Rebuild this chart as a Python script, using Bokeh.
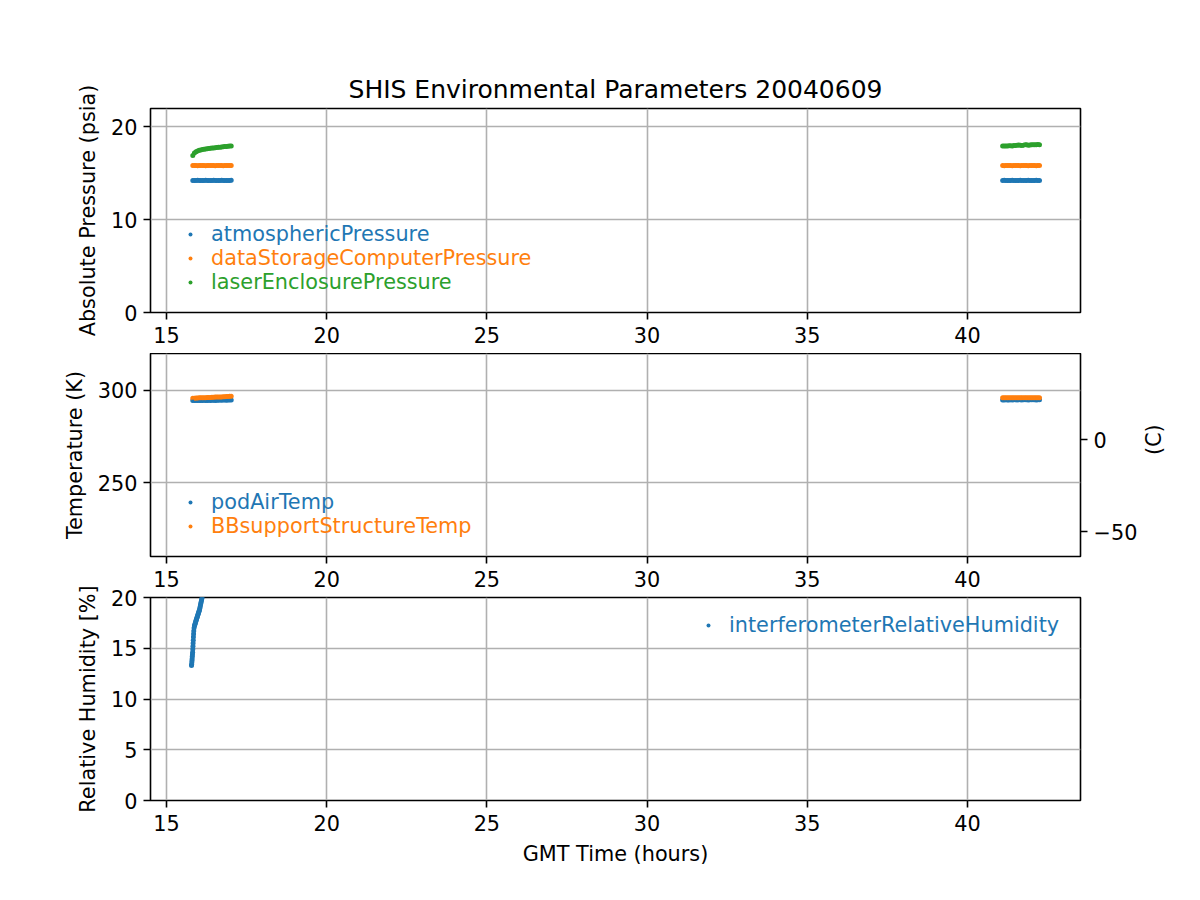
import math
from bokeh.plotting import figure
from bokeh.models import Range1d, LinearAxis, FixedTicker, Legend, LegendItem
from bokeh.layouts import column
from bokeh.embed import file_html
from bokeh.resources import INLINE

FONT = "DejaVu Sans"
BLUE = "#1f77b4"
ORANGE = "#ff7f0e"
GREEN = "#2ca02c"
FS = "20.8px"

# ---------------- data ----------------
time_a = [15.82, 15.87, 15.92, 15.97, 16.02, 16.07, 16.12, 16.17, 16.22, 16.27,
          16.32, 16.37, 16.42, 16.47, 16.52, 16.57, 16.62, 16.67, 16.72, 16.77,
          16.82, 16.87, 16.92, 16.97, 17.02]
time_b = [41.10, 41.15, 41.20, 41.25, 41.30, 41.35, 41.40, 41.45, 41.50, 41.55,
          41.60, 41.65, 41.70, 41.75, 41.80, 41.85, 41.90, 41.95, 42.00, 42.05,
          42.10, 42.15, 42.20, 42.25]

atmos_a = [14.20, 14.19, 14.20, 14.21, 14.20, 14.19, 14.20, 14.20, 14.21, 14.20,
           14.19, 14.20, 14.20, 14.21, 14.20, 14.20, 14.19, 14.20, 14.21, 14.20,
           14.20, 14.19, 14.20, 14.20, 14.21]
atmos_b = [14.20, 14.21, 14.20, 14.19, 14.20, 14.20, 14.21, 14.20, 14.19, 14.20,
           14.20, 14.21, 14.20, 14.20, 14.19, 14.20, 14.21, 14.20, 14.20, 14.19,
           14.20, 14.21, 14.20, 14.20]
dsc_a = [15.80, 15.81, 15.80, 15.79, 15.80, 15.80, 15.81, 15.80, 15.79, 15.80,
         15.80, 15.81, 15.80, 15.80, 15.79, 15.80, 15.81, 15.80, 15.80, 15.79,
         15.80, 15.81, 15.80, 15.80, 15.80]
dsc_b = [15.80, 15.79, 15.80, 15.81, 15.80, 15.80, 15.79, 15.80, 15.81, 15.80,
         15.80, 15.79, 15.80, 15.80, 15.81, 15.80, 15.79, 15.80, 15.80, 15.81,
         15.80, 15.79, 15.80, 15.80]
laser_a = [16.88, 17.15, 17.30, 17.38, 17.44, 17.48, 17.52, 17.55, 17.58, 17.61,
           17.63, 17.66, 17.68, 17.70, 17.72, 17.74, 17.76, 17.78, 17.80, 17.82,
           17.84, 17.86, 17.88, 17.90, 17.92]
laser_b = [17.90, 17.91, 17.92, 17.90, 17.93, 17.94, 17.92, 17.95, 17.96, 18.00,
           18.02, 17.98, 17.96, 17.99, 18.03, 18.04, 18.00, 18.02, 18.05, 18.04,
           18.03, 18.05, 18.06, 18.05]

podair_a = [294.6, 294.5, 294.6, 294.6, 294.5, 294.6, 294.6, 294.7, 294.6, 294.6,
            294.7, 294.6, 294.7, 294.7, 294.6, 294.7, 294.7, 294.8, 294.7, 294.8,
            294.8, 294.7, 294.8, 294.9, 294.8]
podair_b = [294.9, 294.9, 295.0, 294.9, 294.9, 295.0, 294.9, 295.0, 295.0, 294.9,
            295.0, 295.0, 294.9, 295.0, 295.0, 295.0, 294.9, 295.0, 295.0, 295.0,
            295.0, 294.9, 295.0, 295.0]
bbsupport_a = [295.8, 295.8, 295.9, 295.9, 296.0, 296.0, 296.0, 296.1, 296.1, 296.2,
               296.2, 296.2, 296.3, 296.3, 296.4, 296.4, 296.4, 296.5, 296.5, 296.6,
               296.6, 296.7, 296.8, 296.9, 296.9]
bbsupport_b = [296.0, 296.0, 296.0, 296.1, 296.0, 296.0, 296.1, 296.0, 296.0, 296.1,
               296.0, 296.0, 296.1, 296.0, 296.0, 296.1, 296.0, 296.0, 296.1, 296.0,
               296.0, 296.1, 296.0, 296.0]

hum_time = [15.780, 15.785, 15.790, 15.795, 15.800, 15.805, 15.810, 15.815, 15.820,
            15.825, 15.830, 15.835, 15.840, 15.845, 15.850, 15.860, 15.870, 15.880,
            15.890, 15.900, 15.910, 15.920, 15.930, 15.940, 15.950, 15.960, 15.970,
            15.980, 15.990, 16.000, 16.010, 16.020, 16.030, 16.040, 16.050, 16.060,
            16.070, 16.080, 16.090, 16.100, 16.110, 16.120, 16.130]
humidity = [13.3, 13.4, 13.6, 13.8, 14.0, 14.2, 14.4, 14.6, 14.9,
            15.2, 15.5, 15.8, 16.1, 16.4, 16.7, 17.0, 17.2, 17.3,
            17.4, 17.5, 17.6, 17.7, 17.8, 17.9, 18.0, 18.1, 18.2,
            18.3, 18.4, 18.5, 18.6, 18.7, 18.8, 18.95, 19.1, 19.25,
            19.4, 19.55, 19.7, 19.85, 20.0, 20.15, 20.3]

x_ticks = [15, 20, 25, 30, 35, 40]
pres_ticks = [0, 10, 20]
temp_ticks = [250, 300]
celsius_ticks = [-50, 0]
hum_ticks = [0, 5, 10, 15, 20]

X_RANGE = (14.5, 43.53)


def style_axis(ax):
    ax.axis_line_color = None
    ax.major_tick_out = 7
    ax.major_tick_in = 0
    ax.major_tick_line_width = 1.6
    ax.major_tick_line_color = "black"
    ax.minor_tick_line_color = None
    ax.major_label_text_font = FONT
    ax.major_label_text_font_size = FS
    ax.major_label_text_color = "black"
    ax.major_label_standoff = 6
    ax.axis_label_text_font = FONT
    ax.axis_label_text_font_size = FS
    ax.axis_label_text_font_style = "normal"
    ax.axis_label_text_color = "black"
    ax.axis_label_standoff = 8


def style(p, yticks):
    p.outline_line_color = "black"
    p.outline_line_width = 1.6
    p.outline_line_alpha = 1.0
    p.xgrid.grid_line_color = "#b0b0b0"
    p.ygrid.grid_line_color = "#b0b0b0"
    p.xgrid.grid_line_width = 1.6
    p.ygrid.grid_line_width = 1.6
    p.xaxis.ticker = FixedTicker(ticks=x_ticks)
    p.left[0].ticker = FixedTicker(ticks=yticks)
    for ax in p.xaxis + p.yaxis:
        style_axis(ax)
    p.below[0].major_label_standoff = 7


def add_legend(p, color, label, xs, ys, vx, vy):
    proxy = p.scatter(xs[:1], ys[:1], size=3, color=color, line_color=None)
    leg = Legend(items=[LegendItem(label=label, renderers=[proxy])],
                 location=(vx, vy), orientation="vertical",
                 glyph_width=10, glyph_height=20, label_height=24,
                 label_standoff=16, padding=0, margin=0, spacing=0,
                 border_line_alpha=0, background_fill_alpha=0,
                 label_text_color=color, label_text_font=FONT,
                 label_text_font_size=FS)
    p.add_layout(leg)


LEFT = 150
RIGHT = 112

# ---------- plot 1: pressure ----------
p1 = figure(frame_width=930, frame_height=204, min_border_left=LEFT,
            min_border_right=RIGHT, min_border_top=108, min_border_bottom=41,
            toolbar_location=None, output_backend="svg",
            x_range=Range1d(*X_RANGE), y_range=Range1d(0, 21.94))
p1.title.text = "SHIS Environmental Parameters 20040609"
p1.title.align = "center"
p1.title.text_font = FONT
p1.title.text_font_size = "25px"
p1.title.text_font_style = "normal"
p1.title.text_color = "black"
p1.title.standoff = 9
for t, v, c in [(time_a, atmos_a, BLUE), (time_b, atmos_b, BLUE),
                (time_a, dsc_a, ORANGE), (time_b, dsc_b, ORANGE),
                (time_a, laser_a, GREEN), (time_b, laser_b, GREEN)]:
    p1.scatter(t, v, size=5, color=c, line_color=None)
style(p1, pres_ticks)
p1.left[0].axis_label = "Absolute Pressure (psia)"
add_legend(p1, BLUE, "atmosphericPressure", time_a, atmos_a, 35, 66)
add_legend(p1, ORANGE, "dataStorageComputerPressure", time_a, dsc_a, 35, 42)
add_legend(p1, GREEN, "laserEnclosurePressure", time_a, laser_a, 35, 18)

# ---------- plot 2: temperature ----------
p2 = figure(frame_width=930, frame_height=203, min_border_left=LEFT,
            min_border_right=RIGHT, min_border_top=0, min_border_bottom=41,
            toolbar_location=None, output_backend="svg",
            x_range=p1.x_range, y_range=Range1d(209.8, 320.1))
p2.extra_y_ranges = {"celsius": Range1d(209.8 - 273.15, 320.1 - 273.15)}
for t, v, c in [(time_a, podair_a, BLUE), (time_b, podair_b, BLUE),
                (time_a, bbsupport_a, ORANGE), (time_b, bbsupport_b, ORANGE)]:
    p2.scatter(t, v, size=5, color=c, line_color=None)
right_ax = LinearAxis(y_range_name="celsius",
                      ticker=FixedTicker(ticks=celsius_ticks),
                      major_label_overrides={-50: "\u221250", 0: "0"})
p2.add_layout(right_ax, "right")
style(p2, temp_ticks)
p2.left[0].axis_label = "Temperature (K)"
right_ax.axis_label = "(C)"
right_ax.axis_label_standoff = 14
if "axis_label_orientation" in right_ax.properties():
    right_ax.axis_label_orientation = math.pi / 2
add_legend(p2, BLUE, "podAirTemp", time_a, podair_a, 35, 42)
add_legend(p2, ORANGE, "BBsupportStructureTemp", time_a, bbsupport_a, 35, 18)

# ---------- plot 3: humidity ----------
p3 = figure(frame_width=930, frame_height=203, min_border_left=LEFT,
            min_border_right=RIGHT, min_border_top=14, min_border_bottom=80,
            toolbar_location=None, output_backend="svg",
            x_range=p1.x_range, y_range=Range1d(0, 20))
p3.border_fill_color = None
p3.margin = (-14, 0, 0, 0)
p3.scatter(hum_time, humidity, size=5, color=BLUE, line_color=None)
style(p3, hum_ticks)
p3.left[0].axis_label = "Relative Humidity [%]"
p3.below[0].axis_label = "GMT Time (hours)"
add_legend(p3, BLUE, "interferometerRelativeHumidity", hum_time, humidity, 553, 163)

layout = column(p1, p2, p3, spacing=0)
open("out.html", "w").write(file_html(layout, INLINE))
